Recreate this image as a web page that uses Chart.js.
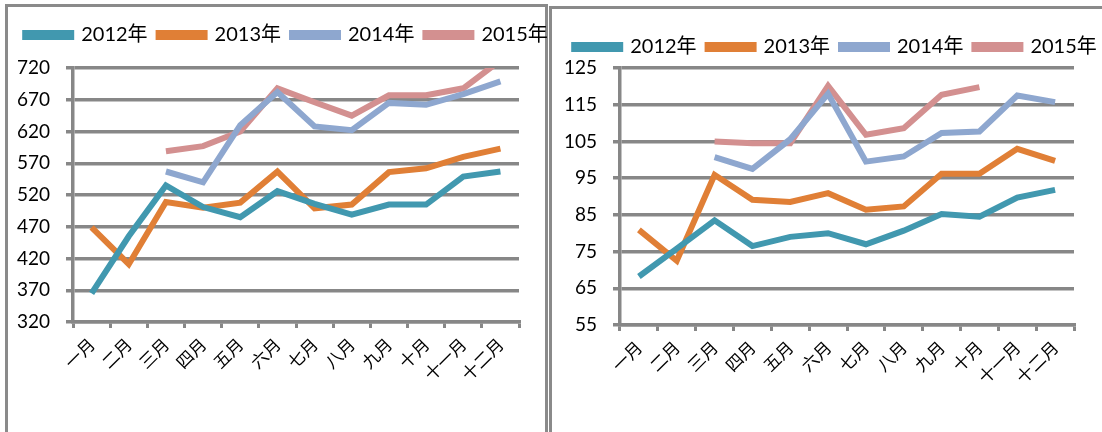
<!DOCTYPE html>
<html>
<head>
<meta charset="utf-8">
<script src="https://cdn.jsdelivr.net/npm/chart.js@4/dist/chart.umd.min.js"></script>
<style>
  body { margin:0; background:#fff; width:1102px; height:432px; overflow:hidden; position:relative; }
  .box { position:absolute; border:3px solid #8a8a8a; border-bottom:none; }
  #box1 { left:5px; top:4px; width:537px; height:440px; }
  #box2 { left:549px; top:6px; width:560px; height:440px; }
  canvas { position:absolute; top:0; }
  #c1 { left:0; }
  #c2 { left:551px; }
</style>
</head>
<body>
<div class="box" id="box1"></div>
<div class="box" id="box2"></div>
<canvas id="c1" width="580" height="432"></canvas>
<canvas id="c2" width="620" height="432"></canvas>
<script>
const months = ['一月','二月','三月','四月','五月','六月','七月','八月','九月','十月','十一月','十二月'];
const years = ['2012年','2013年','2014年','2015年'];
const colors = ['#4198af','#e07f36','#8ea7cf','#d39090'];

// left chart
const left2012 = [365, 455, 535, 501, 485, 526, 506, 489, 505, 505, 549, 557];
const left2013 = [469, 411, 509, 500, 508, 557, 499, 505, 556, 562, 580, 593];
const left2014 = [null, null, 557, 540, 630, 682, 628, 622, 665, 662, 679, 699];
const left2015 = [null, null, 589, 597, 620, 688, 666, 645, 677, 677, 688, 732];
const leftTicks = [320, 720, 50];

// right chart
const right2012 = [68.2, 75.8, 83.5, 76.5, 79, 80, 77, 80.7, 85.2, 84.5, 89.7, 91.8];
const right2013 = [80.9, 72.5, 95.9, 89.1, 88.5, 90.9, 86.4, 87.3, 96.2, 96.2, 103, 99.7];
const right2014 = [null, null, 100.7, 97.5, 105.6, 118, 99.5, 100.9, 107.3, 107.7, 117.5, 115.7];
const right2015 = [null, null, 105, 104.5, 104.5, 120.1, 106.8, 108.6, 117.7, 119.8, null, null];
const rightTicks = [55, 125, 10];

const grey = '#878787';
const font = "Lato, 'Noto Sans CJK SC', sans-serif";

// empty axes only used to reserve space
const spacer = (pos, size) => ({
    type: pos === 'top' ? 'category' : 'linear',
    position: pos,
    display: true,
    grid: { display: false },
    border: { display: false },
    ticks: { display: false },
    afterFit: s => { if (pos === 'top') s.height = size; else s.width = size; }
});

function makeChart(id, series, t, lay) {
    return new Chart(document.getElementById(id), {
        type: 'line',
        data: {
            labels: months,
            datasets: series.map((d, i) => ({
                label: years[i],
                data: d,
                borderColor: colors[i],
                backgroundColor: colors[i],
                borderWidth: 6,
                pointRadius: 0,
                tension: 0,
                spanGaps: false
            }))
        },
        options: {
            responsive: false,
            animation: false,
            events: [],
            layout: { padding: { left: lay.pl, right: lay.pr, top: lay.pt, bottom: 0 } },
            plugins: {
                tooltip: { enabled: false },
                legend: {
                    position: 'top',
                    labels: {
                        boxWidth: 46,
                        boxHeight: 4,
                        padding: 11,
                        color: '#000',
                        font: { family: font, size: 20 }
                    }
                }
            },
            scales: {
                x: {
                    offset: true,
                    afterFit: s => { s.height = lay.xh; },
                    grid: { offset: true, drawOnChartArea: false, color: grey, lineWidth: 3, tickLength: 6 },
                    border: { color: grey, width: 3.5 },
                    ticks: {
                        autoSkip: false, minRotation: 45, maxRotation: 45, padding: 6,
                        color: '#000', font: { family: "'Noto Sans CJK SC', sans-serif", size: 17 }
                    }
                },
                y: {
                    min: t[0], max: t[1],
                    afterFit: s => { s.width = lay.yw; },
                    grid: { color: grey, lineWidth: 3.5, tickLength: 7 },
                    border: { color: grey, width: 3.5 },
                    ticks: { stepSize: t[2], padding: 16, color: '#000', font: { family: font, size: 19 } }
                },
                gapTop: spacer('top', lay.gap),
                gapRight: spacer('right', lay.rw)
            }
        }
    });
}

makeChart('c1', [left2012, left2013, left2014, left2015], leftTicks,
    { pl: 5, pr: 12, pt: 14, gap: 13, xh: 110, yw: 68, rw: 49 });
makeChart('c2', [right2012, right2013, right2014, right2015], rightTicks,
    { pl: 8, pr: 59, pt: 26, gap: 1, xh: 107, yw: 61, rw: 38 });
</script>
</body>
</html>
